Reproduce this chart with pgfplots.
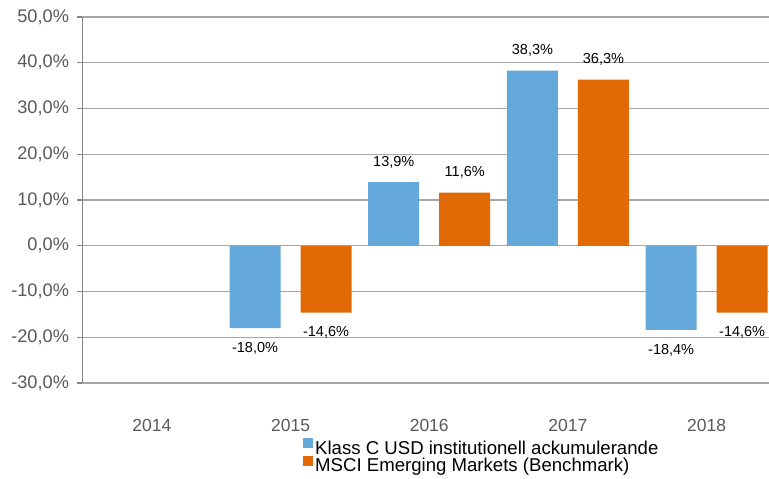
\documentclass[border=0pt]{standalone}
\usepackage{pgfplots}
\pgfplotsset{compat=1.18}
\usepackage{fontspec}
\setmainfont{Liberation Sans}
\definecolor{barblue}{RGB}{100,168,220}
\definecolor{barorange}{RGB}{226,106,6}
\definecolor{gridgray}{RGB}{166,166,166}
\definecolor{axisgray}{RGB}{134,134,134}
\definecolor{labelgray}{RGB}{89,89,89}
\begin{document}
\begin{tikzpicture}
\useasboundingbox (0,0) rectangle (769pt,479pt);
\begin{axis}[
  at={(82.5pt,96pt)}, anchor=south west,
  scale only axis, width=686.5pt, height=366pt,
  xmin=-0.5, xmax=4.4496, ymin=-30, ymax=50,
  ybar=20pt, bar width=51pt,
  axis y line*=left, axis x line*=bottom,
  y axis line style={-, draw=axisgray, line width=1.5pt},
  x axis line style={draw=none},
  xtick={0,1,2,3,4}, xticklabels={2014,2015,2016,2017,2018},
  ytick={-30,-20,...,50},
  yticklabels={{-30,0\%},{-20,0\%},{-10,0\%},{0,0\%},{10,0\%},{20,0\%},{30,0\%},{40,0\%},{50,0\%}},
  ymajorgrids, grid style={gridgray, line width=1.2pt},
  tick align=outside, major tick length=5pt,
  ytick style={draw=axisgray, line width=1.2pt},
  xtick style={draw=none},
  yticklabel style={font=\fontsize{18.2}{20}\selectfont, text=labelgray, xshift=-5pt},
  xticklabel style={font=\fontsize{17.5}{20}\selectfont, text=labelgray, yshift=-28pt},
  nodes near coords={\pgfmathprintnumber[fixed,fixed zerofill,precision=1,use comma,assume math mode=true]{\pgfplotspointmeta}\%},
  nodes near coords align={vertical},
  every node near coord/.append style={font=\fontsize{14.5}{16}\selectfont, text=black, inner ysep=14pt, inner xsep=0pt},
  legend style={at={(0.3212,-0.150)}, anchor=north west, draw=none, fill=none, inner sep=0pt,
    font=\fontsize{18.6}{19}\selectfont, row sep=-2pt, nodes={inner sep=2pt}},
  legend cell align=left,
  legend image code/.code={\fill[#1] (0pt,0pt) rectangle (10pt,10pt);},
]
\addplot[fill=barblue, draw=none] coordinates {(1,-18.0) (2,13.9) (3,38.3) (4,-18.4)};
\addplot[fill=barorange, draw=none] coordinates {(1,-14.6) (2,11.6) (3,36.3) (4,-14.6)};
\legend{Klass C USD institutionell ackumulerande, MSCI Emerging Markets (Benchmark)}
\end{axis}
\end{tikzpicture}
\end{document}
